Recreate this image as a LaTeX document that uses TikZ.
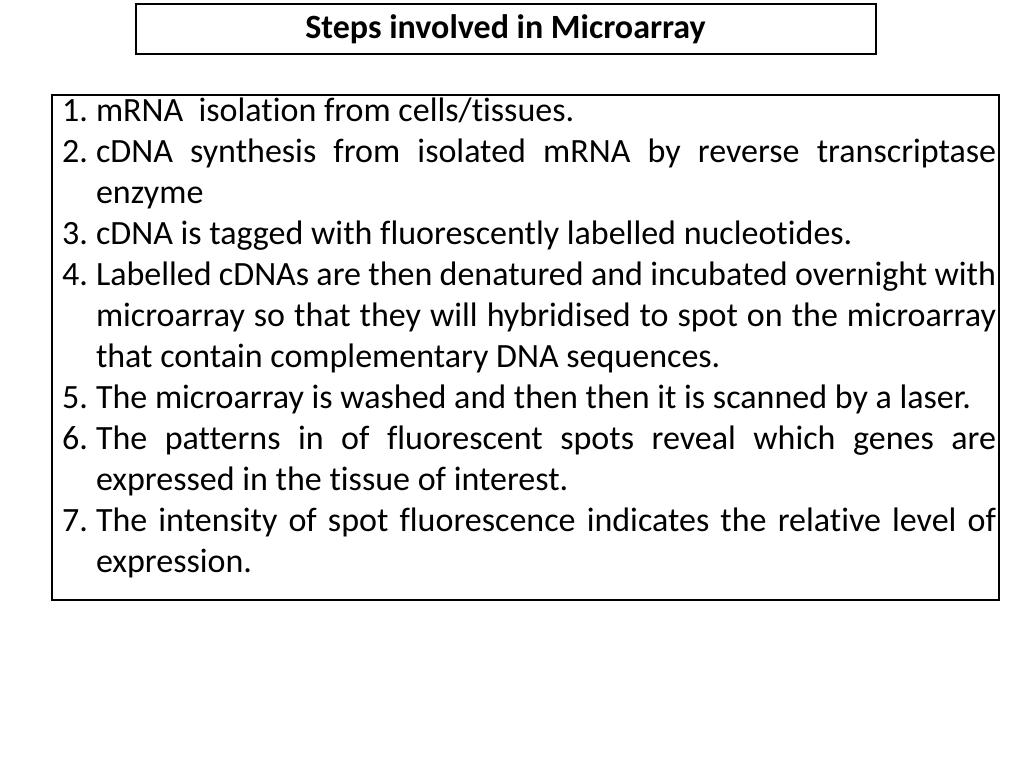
\documentclass[tikz,border=0pt]{standalone}
\usepackage{fontspec}
\setmainfont{Carlito}[Ligatures={NoCommon}]
\usepackage{enumitem}
\usetikzlibrary{positioning}

\begin{document}
\begin{tikzpicture}[x=0.75pt,y=-0.75pt,
    titlebox/.style={draw,line width=1.5pt,minimum width=555pt,minimum height=38pt,
        font=\fontsize{25.5}{30}\selectfont\bfseries},
    stepbox/.style={draw,line width=1.5pt,minimum width=710pt,minimum height=379pt,
        text width=706pt,align=justify,inner xsep=2pt,inner ysep=6pt,anchor=north west,
        font=\fontsize{25.5}{30.75}\selectfont}]

\useasboundingbox (0,0) rectangle (1024,768);

% Title
\node[titlebox] (title) at (505.5,29) {Steps involved in Microarray};

% Steps
\node[stepbox] (steps) at (51,94) {%
\hyphenpenalty=10000\relax\exhyphenpenalty=10000\relax
\vspace*{-28pt}
\begin{enumerate}[leftmargin=31pt,labelsep=6pt,itemsep=0pt,topsep=0pt,parsep=0pt]
\item mRNA\ \ isolation from cells/tissues.
\item cDNA synthesis from isolated mRNA by reverse transcriptase enzyme
\item cDNA is tagged with fluorescently labelled nucleotides.
\item Labelled cDNAs are then denatured and incubated overnight with microarray so that they will hybridised to spot on the microarray that contain complementary DNA sequences.
\item The microarray is washed and then then it is scanned by a laser.
\item The patterns in of fluorescent spots reveal which genes are expressed in the tissue of interest.
\item The intensity of spot fluorescence indicates the relative level of expression.
\end{enumerate}};

\end{tikzpicture}
\end{document}
